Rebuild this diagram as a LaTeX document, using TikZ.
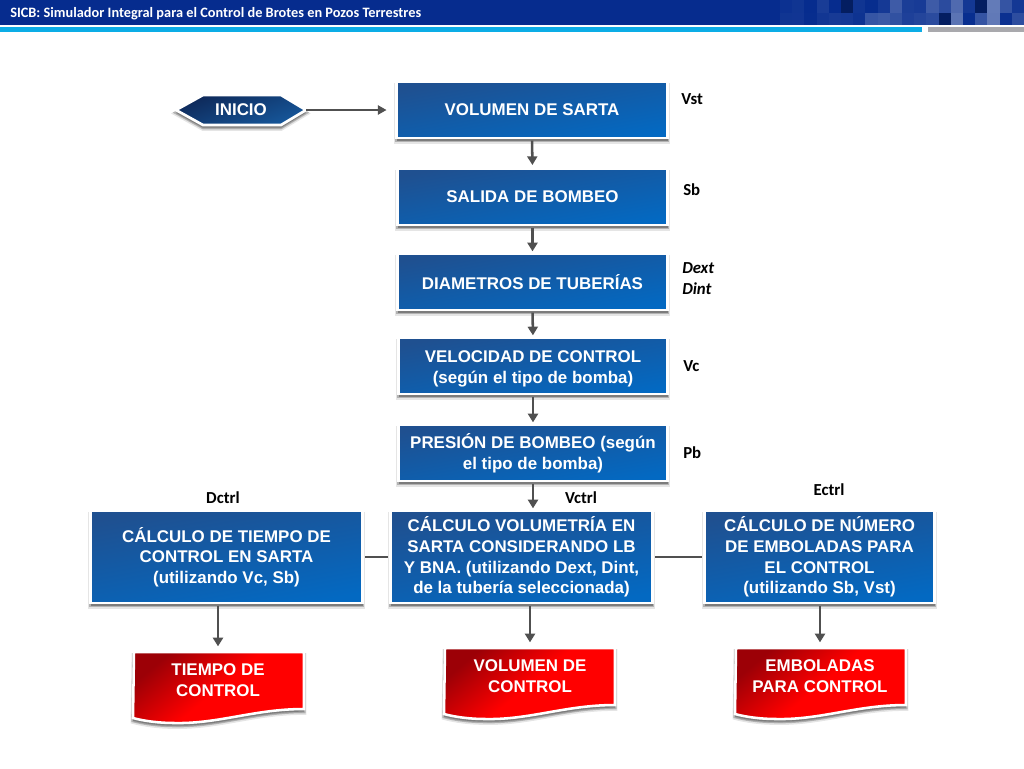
\documentclass[tikz,border=0pt]{standalone}
\usepackage{fontspec}
\setmainfont{Liberation Sans}
\newfontfamily\calib{Carlito}
\usetikzlibrary{arrows.meta}
\definecolor{bluetop}{HTML}{1F5090}
\definecolor{bluebot}{HTML}{0369C2}
\definecolor{navytop}{HTML}{0E2858}
\definecolor{navybot}{HTML}{16589C}
\definecolor{redtop}{HTML}{9C0006}
\definecolor{redbot}{HTML}{FF0000}
\definecolor{headblue}{HTML}{062C8E}
\definecolor{headcyan}{HTML}{0CADE6}
\definecolor{headgrey}{HTML}{A9A9AD}
\definecolor{linegrey}{HTML}{505050}
\tikzset{
  softshadow/.style={
    preaction={draw=black,fill=black,line width=3.6pt,opacity=.10,transform canvas={yshift=-2.6pt}},
    preaction={draw=black,fill=black,line width=2.4pt,opacity=.22,transform canvas={yshift=-2pt}}},
  bluebox/.style n args={2}{rectangle,softshadow,draw=white,line width=1.9pt,outer sep=0pt,inner sep=0pt,
    top color=bluetop,bottom color=bluebot,shading angle=10,
    minimum width=#1*0.75pt,minimum height=#2*0.75pt,
    text=white,align=center,font=\fontsize{12.7}{15.4}\selectfont\bfseries},
  holder/.style n args={2}{rectangle,inner sep=0pt,outer sep=0pt,minimum width=#1*0.75pt,minimum height=#2*0.75pt,
    text=white,align=center,font=\fontsize{12.7}{15.4}\selectfont\bfseries},
  sidelabel/.style={font=\calib\fontsize{12.6}{15.4}\selectfont\bfseries,text=black,inner sep=0pt,align=left},
  wave/.style={softshadow,draw=white,line width=1.9pt,line join=miter,top color=redtop,bottom color=redbot,middle color=redbot,shading angle=40},
  hexa/.style={softshadow,draw=white,line width=2pt,top color=navytop,bottom color=navybot,shading angle=20},
  flow/.style={draw=linegrey,line width=1.9pt,-{Triangle[length=6.5pt,width=7.5pt]}},
  flowthin/.style={draw=linegrey,line width=1.2pt,-{Triangle[length=6.5pt,width=7pt]}},
  joinline/.style={draw=linegrey,line width=1.5pt},
}
\newcommand{\redwave}[2]{%
  \begin{scope}[shift={(#1,#2)}]
  \path[wave] (0,0) -- (170,0) -- (170,57)
    .. controls (120,57) and (85,72) .. (40,71)
    .. controls (25,71) and (10,69) .. (-1,66) -- cycle;
  \end{scope}}
\begin{document}
\begin{tikzpicture}[x=0.75pt,y=-0.75pt]
\useasboundingbox (0,0) rectangle (1024,768);
\fill[white] (0,0) rectangle (1024,768);
% header
\fill[headblue] (0,0) rectangle (1024,25);
\pgfmathsetseed{41}
\foreach \col in {0,...,19}{
  \foreach \row in {0,1}{
    \pgfmathsetmacro{\px}{780+12.2*\col}
    \pgfmathsetmacro{\py}{\row*12.5}
    \pgfmathsetmacro{\op}{(0.05+0.022*\col)*rnd}
    \pgfmathtruncatemacro{\dk}{rnd<0.15 ? 1 : 0}
    \ifnum\dk=1
      \fill[black!70!headblue,opacity=.45] (\px,\py) rectangle ++(12.2,12.5);
    \else
      \fill[white,opacity=\op] (\px,\py) rectangle ++(12.2,12.5);
    \fi
  }
}
\fill[headcyan] (0,27) rectangle (922,32);
\fill[headgrey] (928,27) rectangle (1024,32);
\node[anchor=west,inner sep=0pt,text=white,font=\calib\fontsize{10.75}{12}\selectfont\bfseries] (title) at (10,13.5) {SICB: Simulador Integral para el Control de Brotes en Pozos Terrestres};
% inicio
\path[hexa] (176,110) -- (203,95) -- (281,95) -- (306,110) -- (281,125) -- (203,125) -- cycle;
\node[holder={130}{30}] (inicio) at (241,110) {INICIO};
% main column
\node[bluebox={271}{56}] (sarta) at (532,110) {VOLUMEN DE SARTA};
\node[bluebox={270}{56}] (salida) at (532.5,197) {SALIDA DE BOMBEO};
\node[bluebox={270}{56}] (diam) at (532.5,282) {DIAMETROS DE TUBERÍAS};
\node[bluebox={269}{56}] (veloc) at (533,366) {\rule{0pt}{13pt}VELOCIDAD DE CONTROL\\(según el tipo de bomba)};
\node[bluebox={269}{56}] (presion) at (533,453) {\rule{0pt}{11pt}PRESIÓN DE BOMBEO (según\\el tipo de bomba)};
% calculation row
\node[bluebox={272}{92}] (ctiempo) at (226.5,557) {CÁLCULO DE TIEMPO DE\\CONTROL EN SARTA\\(utilizando Vc, Sb)};
\node[bluebox={262}{92}] (cvol) at (521.5,557) {CÁLCULO VOLUMETRÍA EN\\SARTA CONSIDERANDO LB\\Y BNA. (utilizando Dext, Dint,\\de la tubería seleccionada)};
\node[bluebox={230}{92}] (cemb) at (819.5,557) {CÁLCULO DE NÚMERO\\DE EMBOLADAS PARA\\EL CONTROL\\(utilizando Sb, Vst)};
% red documents
\redwave{134}{652}
\redwave{445}{648}
\redwave{736}{648}
\node[holder={168}{58}] (rtiempo) at (218,680) {TIEMPO DE\\CONTROL};
\node[holder={168}{58}] (rvol) at (530,676) {VOLUMEN DE\\CONTROL};
\node[holder={168}{58}] (remb) at (820,676) {EMBOLADAS\\PARA CONTROL};
% side labels
\node[sidelabel,anchor=west] (lvst) at (681,99) {Vst};
\node[sidelabel,anchor=west] (lsb) at (683,190) {Sb};
\node[sidelabel,anchor=west,font=\calib\fontsize{12.6}{15.4}\selectfont\bfseries\itshape] (ldext) at (682,278.5) {Dext\\Dint};
\node[sidelabel,anchor=west] (lvc) at (683,366) {Vc};
\node[sidelabel,anchor=west] (lpb) at (683,453) {Pb};
\node[sidelabel] (ldctrl) at (223,498) {Dctrl};
\node[sidelabel] (lvctrl) at (581,498) {Vctrl};
\node[sidelabel] (lectrl) at (829,490) {Ectrl};
% connectors
\draw[flowthin,shorten >=10*0.75pt] (inicio.east) -- (sarta.west);
\draw[flow,shorten >=3pt,shorten <=2pt] (sarta.south) -- (salida.north);
\draw[flow,shorten >=2pt,shorten <=2pt] (salida.south) -- (diam.north);
\draw[flow,shorten >=2pt,shorten <=2pt] (diam.south) -- (veloc.north);
\draw[flow,shorten >=2pt,shorten <=2pt] (veloc.south) -- (presion.north);
\draw[flow,shorten >=2pt,shorten <=2pt] (presion.south) -- (presion.south |- cvol.north);
\draw[joinline,shorten <=2pt,shorten >=2pt] (cvol.west) -- (ctiempo.east);
\draw[joinline,shorten <=2pt,shorten >=2pt] (cvol.east) -- (cemb.west);
\draw[flow,shorten <=2pt,shorten >=3.5pt] (rtiempo.north |- ctiempo.south) -- (rtiempo.north);
\draw[flow,shorten <=2pt,shorten >=3.5pt] (rvol.north |- cvol.south) -- (rvol.north);
\draw[flow,shorten <=2pt,shorten >=3.5pt] (remb.north |- cemb.south) -- (remb.north);
\end{tikzpicture}
\end{document}
